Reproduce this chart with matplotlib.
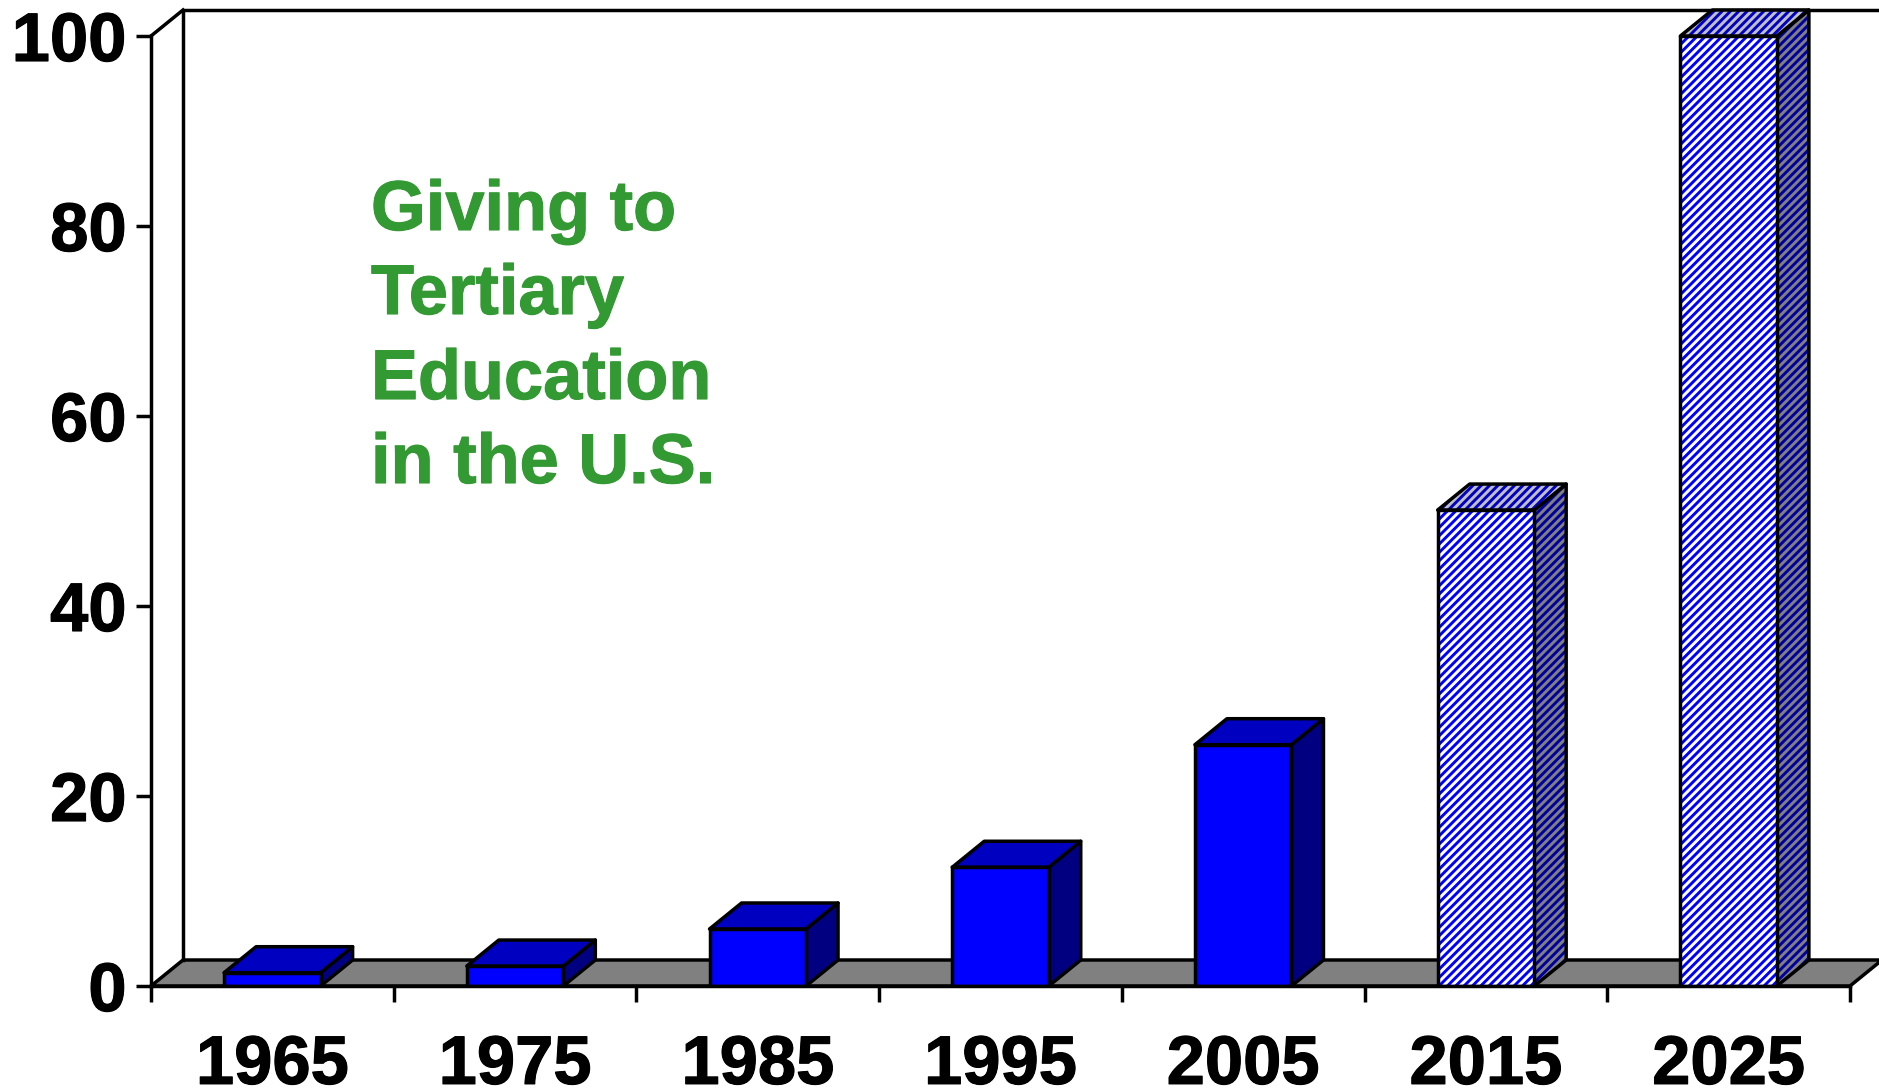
import matplotlib
matplotlib.use('Agg')
import matplotlib.pyplot as plt
from matplotlib.patches import Polygon
import matplotlib.patheffects as pe

plt.rcParams['font.family'] = ['Liberation Sans', 'DejaVu Sans']
plt.rcParams['hatch.linewidth'] = 2.1

# Values
years = ['1965', '1975', '1985', '1995', '2005', '2015', '2025']
giving = [1.4, 2.1, 6.0, 12.5, 25.4, 50.1, 100.0]
projected = [False, False, False, False, False, True, True]
y_ticks = [0, 20, 40, 60, 80, 100]
note_lines = ['Giving to', 'Tertiary', 'Education', 'in the U.S.']

W, H = 1879, 1090
fig = plt.figure(figsize=(W / 100, H / 100), dpi=100)
# plot area in pixels: x 151..1850, y 986..36
ax = fig.add_axes([151 / W, 1 - 986 / H, (1850 - 151) / W, (986 - 36) / H])
ax.set_xlim(-0.5, 6.5)
ax.set_ylim(0, 100)
ax.patch.set_visible(False)

# depth of the fake 3D, in data units
dx = 32 / 242.7
dy = 26 / 9.5
bar_w = 96.5 / 242.7
lw = 2.5


def face(pts, fc, hatch=None, hatch_color='#0000ff'):
    if hatch:
        ax.add_patch(Polygon(pts, closed=True, facecolor=fc, edgecolor=hatch_color, hatch=hatch,
                             lw=0, clip_on=False, zorder=3))
        ax.add_patch(Polygon(pts, closed=True, fill=False, edgecolor='black', lw=lw, joinstyle='round',
                             clip_on=False, zorder=3))
    else:
        ax.add_patch(Polygon(pts, closed=True, facecolor=fc, edgecolor='black', lw=lw, joinstyle='round',
                             clip_on=False, zorder=3))


# floor
ax.add_patch(Polygon([(-0.5, 0), (6.5, 0), (6.5 + dx, dy), (-0.5 + dx, dy)], closed=True,
                     facecolor='#808080', edgecolor='black', lw=lw, clip_on=False, zorder=2))
# back wall lines
ax.plot([-0.5 + dx, -0.5 + dx, 6.5 + dx], [dy, 100 + dy, 100 + dy], color='black', lw=lw,
        clip_on=False, zorder=2)
ax.plot([-0.5, -0.5 + dx], [100, 100 + dy], color='black', lw=lw, clip_on=False, zorder=2)

# bars
for i, (v, p) in enumerate(zip(giving, projected)):
    l, r = i - bar_w / 2, i + bar_w / 2
    top = [(l, v), (r, v), (r + dx, v + dy), (l + dx, v + dy)]
    side = [(r, 0), (r + dx, dy), (r + dx, v + dy), (r, v)]
    if p:
        face(side, '#808080', '////', '#0000a0')
        face(top, '#c0c0c0', '////', '#0000c8')
        ax.bar(i, v, bar_w, color='white', edgecolor='#0000ff', hatch='////', lw=0, zorder=3)
        ax.bar(i, v, bar_w, fill=False, edgecolor='black', lw=lw, zorder=3)
    else:
        face(side, '#000080')
        face(top, '#0000c0')
        ax.bar(i, v, bar_w, color='#0000ff', edgecolor='black', lw=lw, zorder=3)

ax.set_yticks(y_ticks)
ax.set_xticks([i + 0.5 for i in range(-1, 7)])
ax.set_xticklabels([])
ax.set_xticks(range(7), labels=years, minor=True)
ax.tick_params(axis='x', which='major', length=11.5, width=lw, direction='out')
ax.tick_params(axis='x', which='minor', length=0, pad=34.5)
ax.tick_params(axis='y', length=11, width=lw, direction='out', pad=6.5)
heavy = [pe.withStroke(linewidth=0.8, foreground='black')]
for t in ax.get_xticklabels(minor=True) + ax.get_yticklabels():
    t.set_fontsize(49.5)
    t.set_fontweight('bold')
    t.set_path_effects(heavy)

for s in ['top', 'right']:
    ax.spines[s].set_visible(False)
for s in ['left', 'bottom']:
    ax.spines[s].set_linewidth(lw)
    ax.spines[s].set_zorder(4)

for line, y_px in zip(note_lines, [212, 296, 381, 465]):
    fig.text(371 / W, 1 - y_px / H, line, color='#339933', fontsize=50.7, fontweight='bold',
             va='center', ha='left',
             path_effects=[pe.withStroke(linewidth=0.8, foreground='#339933')])

fig.savefig('out.png', dpi=100)
